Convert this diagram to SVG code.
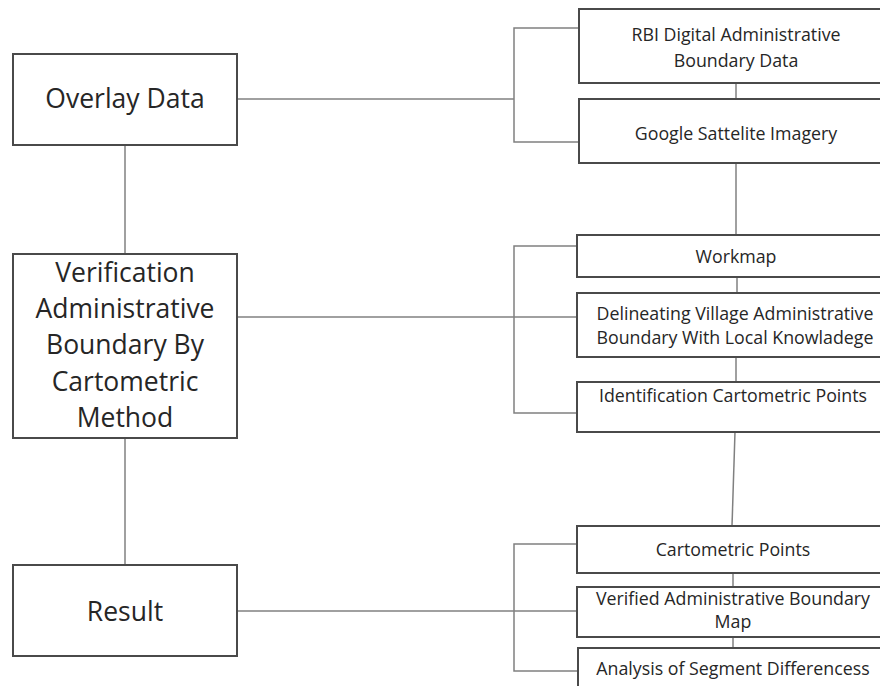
<svg xmlns="http://www.w3.org/2000/svg" width="880" height="686" viewBox="0 0 880 686">
<style>
.box{fill:#fff;stroke:#4a4a4a;stroke-width:2}
.ln{fill:none;stroke:#808080;stroke-width:1.5}
.big{font-family:"Open Sans","Liberation Sans",sans-serif;font-size:26.5px;fill:#262626;text-anchor:middle}
.sm{font-family:"Open Sans","Liberation Sans",sans-serif;font-size:17.8px;fill:#262626;text-anchor:middle}
</style>
<rect width="880" height="686" fill="#fff"/>
<g id="connectors">
<path class="ln" d="M237,99 H514"/>
<path class="ln" d="M579,28 H514 V142 H579"/>
<path class="ln" d="M736,83 V99"/>
<path class="ln" d="M736,163 V235"/>
<path class="ln" d="M125,145 V254"/>
<path class="ln" d="M237,317 H577"/>
<path class="ln" d="M577,246 H514 V413 H577"/>
<path class="ln" d="M737,277 V293"/>
<path class="ln" d="M736,357 V382"/>
<path class="ln" d="M735,432 L732,526"/>
<path class="ln" d="M125,438 V565"/>
<path class="ln" d="M237,611 H577"/>
<path class="ln" d="M577,544 H514 V671 H577"/>
<path class="ln" d="M733,573 V587"/>
<path class="ln" d="M733,637 V648"/>
</g>
<g id="overlay">
<rect class="box" x="13" y="54" width="224" height="91"/>
<text class="big" x="125" y="108">Overlay Data</text>
</g>
<g id="verification">
<rect class="box" x="13" y="254" width="224" height="184"/>
<text class="big" x="125" y="282">Verification</text>
<text class="big" x="125" y="318">Administrative</text>
<text class="big" x="125" y="354">Boundary By</text>
<text class="big" x="125" y="391">Cartometric</text>
<text class="big" x="125" y="427">Method</text>
</g>
<g id="result">
<rect class="box" x="13" y="565" width="224" height="91"/>
<text class="big" x="125" y="621">Result</text>
</g>
<g id="rbi">
<rect class="box" x="579" y="9" width="320" height="74"/>
<text class="sm" x="736" y="41">RBI Digital Administrative</text>
<text class="sm" x="736" y="67">Boundary Data</text>
</g>
<g id="google">
<rect class="box" x="579" y="99" width="320" height="64"/>
<text class="sm" x="736" y="140">Google Sattelite Imagery</text>
</g>
<g id="workmap">
<rect class="box" x="577" y="235" width="320" height="42"/>
<text class="sm" x="736" y="263">Workmap</text>
</g>
<g id="delineating">
<rect class="box" x="577" y="293" width="320" height="64"/>
<text class="sm" x="735" y="320">Delineating Village Administrative</text>
<text class="sm" x="735" y="344">Boundary With Local Knowladege</text>
</g>
<g id="identification">
<rect class="box" x="577" y="382" width="320" height="50"/>
<text class="sm" x="733" y="402">Identification Cartometric  Points</text>
</g>
<g id="cartometric">
<rect class="box" x="577" y="526" width="320" height="47"/>
<text class="sm" x="733" y="556">Cartometric Points</text>
</g>
<g id="verified">
<rect class="box" x="577" y="587" width="320" height="50"/>
<text class="sm" x="733" y="605">Verified Administrative Boundary</text>
<text class="sm" x="733" y="628">Map</text>
</g>
<g id="analysis">
<rect class="box" x="578" y="648" width="320" height="50"/>
<text class="sm" x="733" y="675">Analysis of Segment Differencess</text>
</g>
</svg>
